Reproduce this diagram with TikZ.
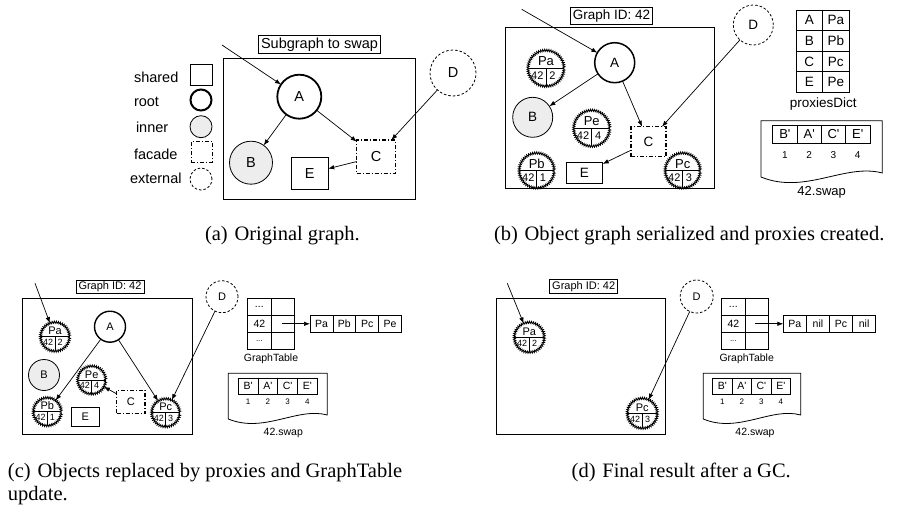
\documentclass[tikz,border=0pt]{standalone}
\usepackage{fontspec}
\setmainfont{Liberation Serif}
\newfontfamily\sansf{Liberation Sans}
\usetikzlibrary{arrows.meta,decorations.pathmorphing,calc}
\newcommand{\fs}[1]{\sansf\fontsize{#1}{#1}\selectfont}
\newcommand{\qq}{\textquotesingle}
% proxy: name, x, y, radius, label, gid, idx, label size, number size
\newcommand{\prx}[9]{%
  \node[proxy, minimum size=#4*2pt] (#1) at (#2,#3) {};
  \draw[line width=0.7pt] (#1.west) -- (#1.east);
  \draw[line width=0.7pt] (#1.center) -- (#1.south);
  \node[anchor=base, font=\fs{#8}] (#1-l) at ([yshift=#4*0.14pt]#1.center) {#5};
  \node[anchor=base, font=\fs{#9}] (#1-g) at ([xshift=-#4*0.48pt, yshift=-#4*0.64pt]#1.center) {#6};
  \node[anchor=base, font=\fs{#9}] (#1-i) at ([xshift=#4*0.36pt, yshift=-#4*0.64pt]#1.center) {#7};
}
% graph table: prefix, left x
\newcommand{\gtab}[2]{%
  \node[cell, minimum width=23.3pt, minimum height=17pt, font=\fs{10.5}] (#1g1) at (#2+11.65,306.8) {...};
  \node[cell, minimum width=23.3pt, minimum height=17pt, font=\fs{10.5}] (#1g2) at (#2+11.65,323.8) {42};
  \node[cell, minimum width=23.3pt, minimum height=17pt, font=\fs{8}] (#1g3) at (#2+11.65,340.8) {...};
  \node[cell, minimum width=23.3pt, minimum height=17pt] (#1h1) at (#2+34.95,306.8) {};
  \node[cell, minimum width=23.3pt, minimum height=17pt] (#1h2) at (#2+34.95,323.8) {};
  \node[cell, minimum width=23.3pt, minimum height=17pt] (#1h3) at (#2+34.95,340.8) {};
}
\begin{document}
\begin{tikzpicture}[x=1pt,y=-1pt,
  every node/.style={inner sep=0pt, outer sep=0pt},
  arr/.style={line width=0.7pt, -{Latex[length=6pt,width=4.5pt]}},
  boxed/.style={draw, line width=0.8pt, inner xsep=2.5pt, inner ysep=2pt},
  shared/.style={draw, line width=0.8pt, rectangle},
  root/.style={draw, circle, line width=2pt},
  innerobj/.style={draw, circle, line width=0.8pt, fill=black!7},
  facade/.style={draw, rectangle, line width=1.4pt, dash pattern=on 4pt off 2pt on 1pt off 2pt},
  extobj/.style={draw, circle, line width=0.8pt, dash pattern=on 2.5pt off 2pt},
  proxy/.style={draw, circle, line width=0.8pt, decorate, decoration={zigzag, segment length=2pt, amplitude=1.1pt}},
  framebox/.style={draw, rectangle, line width=0.8pt},
  cell/.style={draw, rectangle, line width=0.8pt},
  capt/.style={font=\fontsize{20.5}{23}\selectfont, anchor=base west},
]
\useasboundingbox (0,0) rectangle (897,506);

% ================= (a) =================
\node[framebox, minimum width=192pt, minimum height=141pt] (frA) at (319,128.5) {};
\node[boxed, font=\fs{14.5}] (tA) at (319.5,44.5) {Subgraph to swap};
\node[root, line width=1.8pt, minimum size=44pt, font=\fs{14.5}] (aA) at (299.3,96.7) {A};
\node[innerobj, minimum size=43pt, font=\fs{14.5}] (aB) at (251,162.7) {B};
\node[shared, minimum width=37pt, minimum height=32pt, font=\fs{14.5}] (aE) at (309.7,173.3) {E};
\node[facade, minimum width=38.6pt, minimum height=33.3pt, font=\fs{14.5}] (aC) at (376,156.7) {C};
\node[extobj, minimum size=46pt, font=\fs{14.5}] (aD) at (453,73) {D};
\coordinate (aIn) at (222,45);
\draw[arr] (aIn) -- (aA);
\draw[arr] (aA) -- (aB);
\draw[arr] (aA) -- (aC);
\draw[arr] (aC) -- (aE);
\draw[arr] (aD) -- (aC);
% legend
\node[anchor=west, font=\fs{14.5}] (lg1) at (134,77.3) {shared};
\node[anchor=west, font=\fs{14.5}] (lg2) at (134,102.3) {root};
\node[anchor=west, font=\fs{14.5}] (lg3) at (136,127.7) {inner};
\node[anchor=west, font=\fs{14.5}] (lg4) at (134,154) {facade};
\node[anchor=west, font=\fs{14.5}] (lg5) at (130,178.3) {external};
\node[shared, minimum width=22.3pt, minimum height=21.7pt] (ls1) at (201.2,74.8) {};
\node[root, minimum size=21pt] (ls2) at (201,100) {};
\node[innerobj, minimum size=22pt] (ls3) at (201,126.7) {};
\node[facade, minimum width=21pt, minimum height=20.6pt] (ls4) at (201.8,152) {};
\node[extobj, minimum size=22pt] (ls5) at (201,179) {};

% ================= (b) =================
\node[framebox, minimum width=208.3pt, minimum height=160.6pt] (frB) at (609.85,108) {};
\node[boxed, font=\fs{13.5}] (tB) at (611.5,15.9) {Graph ID: 42};
\node[root, line width=1.5pt, minimum size=40pt, font=\fs{13.5}] (bA) at (614.7,62.7) {A};
\node[innerobj, minimum size=40pt, font=\fs{13.5}] (bB) at (532.7,117.3) {B};
\node[facade, minimum width=35pt, minimum height=30pt, font=\fs{13.5}] (bC) at (648.5,141.7) {C};
\node[shared, minimum width=36.7pt, minimum height=21pt, font=\fs{13.5}] (bE) at (584.3,172.8) {E};
\node[extobj, minimum size=40pt, font=\fs{13.5}] (bD) at (753.3,25) {D};
\prx{bPa}{546}{68.3}{18}{Pa}{42}{2}{13}{11}
\prx{bPe}{591.7}{128.3}{18}{Pe}{42}{4}{13}{11}
\prx{bPb}{536.7}{170.5}{17.5}{Pb}{42}{1}{13}{11}
\prx{bPc}{682.7}{170.5}{17.5}{Pc}{42}{3}{13}{11}
\coordinate (bIn) at (521.7,9.3);
\draw[arr] (bIn) -- (bA);
\draw[arr] (bA) -- (bB);
\draw[arr] (bA) -- (bC);
\draw[arr] (bC) -- (bE);
\draw[arr] (bD) -- (bC);
% proxiesDict
\foreach \k/\v [count=\i] in {A/Pa,B/Pb,C/Pc,E/Pe}{
  \node[cell, minimum width=26.5pt, minimum height=20.6pt, font=\fs{13.5}] (pk\i) at (809.25,{10+20.6*(\i-0.5)}) {\k};
  \node[cell, minimum width=26.5pt, minimum height=20.6pt, font=\fs{13.5}] (pv\i) at (835.75,{10+20.6*(\i-0.5)}) {\v};
}
\node[font=\fs{13.5}] (pdl) at (823.3,104) {proxiesDict};
% swap file
\draw[line width=0.8pt] (761,120.7) -- (882.3,120.7) -- (882.3,173) .. controls (845,163) and (805,195) .. (761,177) -- cycle;
\foreach \t [count=\i] in {B\qq,A\qq,C\qq,E\qq}{
  \node[cell, minimum width=24.3pt, minimum height=18.3pt, font=\fs{13}] (bs\i) at ({772.7+24.3*(\i-0.5)},134.2) {\t};
  \node[font=\fs{10}] (bn\i) at ({772.7+24.3*(\i-0.5)},155) {\i};
}
\node[font=\fs{13}] (bsw) at (821.7,192.7) {42.swap};

% ================= (c) =================
\node[framebox, minimum width=169.6pt, minimum height=136pt] (frC) at (107.5,366.3) {};
\node[boxed, font=\fs{11}, inner ysep=1.5pt] (tC) at (110,286.6) {Graph ID: 42};
\node[root, line width=1.4pt, minimum size=31pt, font=\fs{11}] (cA) at (110,326.7) {A};
\node[innerobj, minimum size=31pt, font=\fs{11}] (cB) at (44,375) {B};
\node[facade, line width=1.1pt, minimum width=28.3pt, minimum height=23.3pt, font=\fs{11}] (cC) at (130.8,401.7) {C};
\node[shared, minimum width=27.3pt, minimum height=19pt, font=\fs{11}] (cE) at (85.3,417.2) {E};
\node[extobj, minimum size=32pt, font=\fs{11}] (cD) at (222,296.7) {D};
\prx{cPa}{55}{336.7}{14.5}{Pa}{42}{2}{11}{9}
\prx{cPe}{91.7}{380}{14}{Pe}{42}{4}{11}{9}
\prx{cPb}{47.3}{411.7}{14}{Pb}{42}{1}{11}{9}
\prx{cPc}{165.7}{412.7}{14}{Pc}{42}{3}{11}{9}
\coordinate (cIn) at (35,283.3);
\draw[arr] (cIn) -- (cPa);
\draw[arr] (cA) -- (cPb);
\draw[arr] (cA) -- (cPc);
\draw[arr] (cC) -- (cPe);
\draw[arr] (cD) -- (cPc);
% GraphTable
\gtab{c}{247.7}
\node[font=\fs{10.5}] (cgl) at (271,358.3) {GraphTable};
\foreach \t [count=\i] in {Pa,Pb,Pc,Pe}{
  \node[cell, minimum width=22.9pt, minimum height=17pt, font=\fs{10.5}] (cl\i) at ({310+22.9*(\i-0.5)},323.8) {\t};
}
\coordinate (cPtr) at (281.7,323.8);
\draw[arr] (cPtr) -- (cl1.west);
\draw[line width=0.8pt] (228.3,373.3) -- (327.3,373.3) -- (327.3,415) .. controls (297.1,406.8) and (264.2,433.7) .. (228.3,419) -- cycle;
\foreach \t [count=\i] in {B\qq,A\qq,C\qq,E\qq}{
  \node[cell, minimum width=19.75pt, minimum height=16pt, font=\fs{10.5}] (cs\i) at ({238.3+19.75*(\i-0.5)},386.3) {\t};
  \node[font=\fs{8}] (cn\i) at ({238.3+19.75*(\i-0.5)},401.7) {\i};
}
\node[font=\fs{10.5}] (csw) at (283.3,432.7) {42.swap};

% ================= (d) =================
\node[framebox, minimum width=169.7pt, minimum height=136pt] (frD) at (580.85,366.3) {};
\node[boxed, font=\fs{11}, inner ysep=1.5pt] (tD) at (583.7,286.4) {Graph ID: 42};
\node[extobj, minimum size=33pt, font=\fs{11}] (dD) at (696.7,296.5) {D};
\prx{dPa}{529.3}{337.3}{15}{Pa}{42}{2}{11}{9}
\prx{dPc}{642.3}{413.3}{15}{Pc}{42}{3}{11}{9}
\coordinate (dIn) at (507.3,283.3);
\draw[arr] (dIn) -- (dPa);
\draw[arr] (dD) -- (dPc);
\gtab{d}{721.7}
\node[font=\fs{10.5}] (dgl) at (746.7,358.3) {GraphTable};
\foreach \t [count=\i] in {Pa,nil,Pc,nil}{
  \node[cell, minimum width=23.1pt, minimum height=17pt, font=\fs{10.5}] (dl\i) at ({783.3+23.1*(\i-0.5)},323.8) {\t};
}
\coordinate (dPtr) at (755,323.8);
\draw[arr] (dPtr) -- (dl1.west);
\draw[line width=0.8pt] (703.3,373.3) -- (800.7,373.3) -- (800.7,415) .. controls (771,406.8) and (738.5,433.7) .. (703.3,419) -- cycle;
\foreach \t [count=\i] in {B\qq,A\qq,C\qq,E\qq}{
  \node[cell, minimum width=19.5pt, minimum height=16pt, font=\fs{10.5}] (ds\i) at ({712.7+19.5*(\i-0.5)},386.3) {\t};
  \node[font=\fs{8}] (dn\i) at ({712.7+19.5*(\i-0.5)},401.7) {\i};
}
\node[font=\fs{10.5}] (dsw) at (755,432.7) {42.swap};

% ================= captions =================
\node[capt] (capA) at (205,240) {(a)\hspace{0.33em}Original graph.};
\node[capt] (capB) at (494,240) {(b)\hspace{0.33em}Object graph serialized and proxies created.};
\node[capt] (capC1) at (8,477) {(c)\hspace{0.33em}Objects replaced by proxies and GraphTable};
\node[capt] (capC2) at (8,500) {update.};
\node[capt] (capD) at (571.7,477) {(d)\hspace{0.33em}Final result after a GC.};
\end{tikzpicture}
\end{document}
